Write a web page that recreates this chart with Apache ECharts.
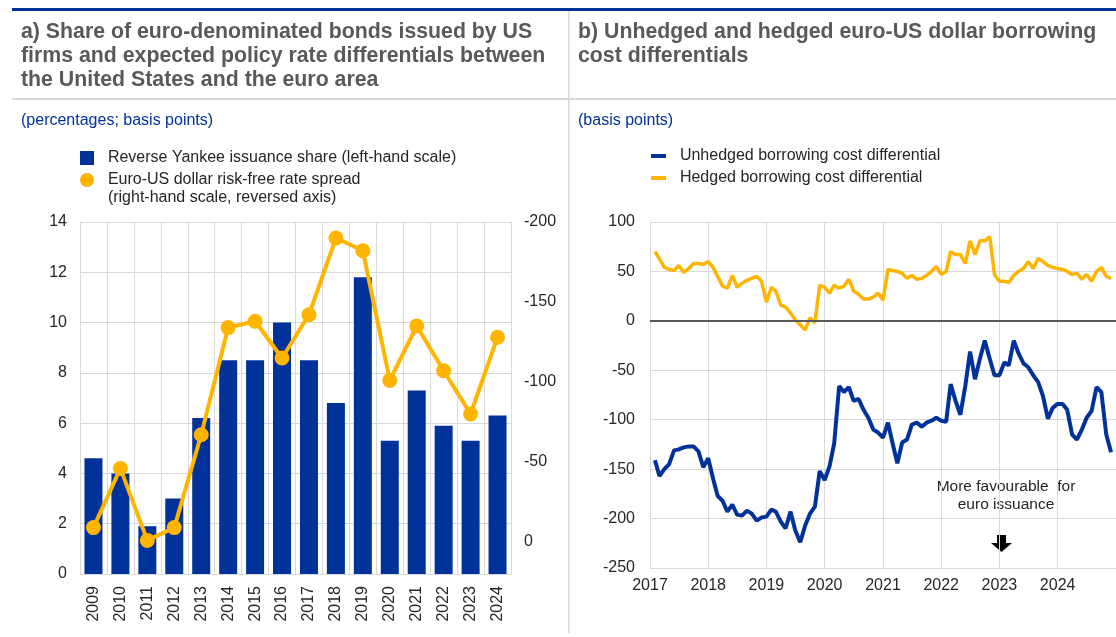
<!DOCTYPE html>
<html>
<head>
<meta charset="utf-8">
<script src="https://cdn.jsdelivr.net/npm/echarts@6/dist/echarts.min.js"></script>
<style>
  html, body { margin: 0; padding: 0; background: #fff; }
  #main { width: 1116px; height: 637px; }
</style>
</head>
<body>
<div id="main"></div>
<script>
// panel a
var years = ['2009', '2010', '2011', '2012', '2013', '2014', '2015', '2016',
  '2017', '2018', '2019', '2020', '2021', '2022', '2023', '2024'];
var issuanceShare = [4.6, 4.0, 1.9, 3.0, 6.2, 8.5, 8.5, 10.0, 8.5, 6.8, 11.8, 5.3, 7.3, 5.9, 5.3, 6.3];
var rateSpread = [-9, -46, -1, -9, -67, -134, -138, -115, -142, -190, -182, -101, -135, -107, -80, -128];

// panel b, monthly from Feb 2017 to Dec 2024
var unhedged = [
  -141, -157, -150, -145, -131, -130, -128, -127, -127, -132, -148,
  -139, -160, -177, -182, -193, -186, -196, -197, -192, -195, -202, -199,
  -198, -191, -193, -203, -210, -193, -212, -224, -207, -195, -188, -152,
  -161, -147, -124, -66, -72, -67, -81, -79, -90, -98, -110, -113,
  -118, -103, -123, -144, -123, -120, -105, -103, -107, -103, -101, -98,
  -101, -102, -64, -81, -95, -66, -31, -59, -38, -20, -38, -55,
  -55, -42, -45, -20, -33, -43, -47, -55, -62, -76, -99, -88,
  -84, -84, -90, -115, -120, -110, -98, -91, -67, -72, -115, -133
];
var hedged = [
  70, 63, 54, 52, 51, 56, 49, 53, 58, 58, 57,
  60, 54, 45, 35, 33, 46, 34, 38, 41, 43, 45, 40,
  19, 34, 30, 16, 14, 8, 1, -4, -9, 3, -2, 36,
  34, 28, 36, 33, 35, 42, 30, 27, 22, 22, 24, 28,
  21, 52, 51, 50, 48, 43, 46, 42, 43, 46, 50, 55,
  47, 50, 70, 67, 67, 58, 81, 67, 81, 81, 85, 47,
  40, 40, 39, 46, 50, 53, 60, 53, 63, 60, 56, 54,
  53, 52, 50, 47, 48, 42, 47, 40, 50, 54, 45, 43
];

var months = [];
for (var i = 0; i < unhedged.length; i++) {
  var m = 1 + i;
  var y = 2017 + Math.floor(m / 12);
  var mm = (m % 12) + 1;
  months.push(y + '-' + (mm < 10 ? '0' + mm : mm) + '-01');
}
function pairs(vals) {
  return vals.map(function (v, i) { return [months[i], v]; });
}

var FONT = "'Liberation Sans', Arial, sans-serif";
var BLUE = '#003299';
var YELLOW = '#ffb400';
var GRID = '#d9d9d9';
var LABEL = '#262626';
var GAP = '  '; // wider gap between legend icon and text

var chart = echarts.init(document.getElementById('main'));

var option = {
  animation: false,
  backgroundColor: '#fff',
  textStyle: { fontFamily: FONT },
  title: [
    {
      text: 'a) Share of euro-denominated bonds issued by US\nfirms and expected policy rate differentials between\nthe United States and the euro area',
      left: 21, top: 19.5, padding: 0,
      textStyle: { fontFamily: FONT, fontSize: 21.3, fontWeight: 'bold', color: '#595959', lineHeight: 24.3 }
    },
    {
      text: 'b) Unhedged and hedged euro-US dollar borrowing\ncost differentials',
      left: 578, top: 19.5, padding: 0,
      textStyle: { fontFamily: FONT, fontSize: 21.3, fontWeight: 'bold', color: '#595959', lineHeight: 24.3 }
    },
    {
      text: '(percentages; basis points)',
      left: 21, top: 111.5, padding: 0,
      textStyle: { fontFamily: FONT, fontSize: 16, fontWeight: 'normal', color: BLUE, lineHeight: 18 }
    },
    {
      text: '(basis points)',
      left: 578, top: 111.5, padding: 0,
      textStyle: { fontFamily: FONT, fontSize: 16, fontWeight: 'normal', color: BLUE, lineHeight: 18 }
    }
  ],
  legend: [
    {
      left: 80, top: 149, padding: 0, selectedMode: false,
      itemWidth: 14, itemHeight: 14,
      data: [{ name: 'Reverse Yankee issuance share (left-hand scale)', icon: 'rect' }],
      formatter: function (name) { return GAP + name; },
      textStyle: { fontFamily: FONT, fontSize: 16, color: LABEL, lineHeight: 18 }
    },
    {
      // leading empty line keeps the icon level with the first text line
      left: 80, top: 153, padding: 0, selectedMode: false,
      itemWidth: 14, itemHeight: 14,
      data: [{ name: 'Euro-US dollar risk-free rate spread', icon: 'circle' }],
      formatter: function (name) {
        return ' \n' + GAP + name + '\n' + GAP + '(right-hand scale, reversed axis)';
      },
      textStyle: { fontFamily: FONT, fontSize: 16, color: LABEL, lineHeight: 18 }
    },
    {
      left: 651, top: 147, padding: 0, selectedMode: false, orient: 'vertical',
      itemWidth: 15, itemHeight: 4, itemGap: 4,
      data: [
        { name: 'Unhedged borrowing cost differential', icon: 'rect' },
        { name: 'Hedged borrowing cost differential', icon: 'rect' }
      ],
      formatter: function (name) { return GAP + name; },
      textStyle: { fontFamily: FONT, fontSize: 16, color: LABEL, lineHeight: 18 }
    }
  ],
  grid: [
    { left: 80, top: 222, width: 431, height: 352 },
    { left: 650, top: 222, width: 470, height: 346 }
  ],
  xAxis: [
    {
      type: 'category', gridIndex: 0, data: years,
      axisLine: { lineStyle: { color: GRID } },
      axisTick: { show: false },
      splitLine: { show: true, interval: 0, lineStyle: { color: GRID, width: 1 } },
      axisLabel: { rotate: 90, interval: 0, margin: 12, fontSize: 16, color: LABEL, fontFamily: FONT }
    },
    {
      type: 'time', gridIndex: 1,
      min: '2017-01-01', max: '2025-01-01',
      minInterval: 365 * 24 * 3600 * 1000,
      maxInterval: 366 * 24 * 3600 * 1000,
      axisLine: { lineStyle: { color: GRID } },
      axisTick: { show: false },
      splitLine: { show: true, lineStyle: { color: GRID, width: 1 } },
      axisLabel: {
        margin: 10, fontSize: 16, color: LABEL, fontFamily: FONT,
        formatter: function (val) {
          var d = new Date(val);
          var yr = d.getFullYear();
          return yr < 2025 ? String(yr) : '';
        }
      }
    }
  ],
  yAxis: [
    {
      type: 'value', gridIndex: 0, min: 0, max: 14, interval: 2,
      axisLine: { show: false }, axisTick: { show: false },
      splitLine: { lineStyle: { color: GRID, width: 1 } },
      axisLabel: { margin: 13, fontSize: 16, color: LABEL, fontFamily: FONT }
    },
    {
      type: 'value', gridIndex: 0, position: 'right', inverse: true,
      min: -200, max: 20, interval: 50,
      axisLine: { show: false }, axisTick: { show: false },
      splitLine: { show: false },
      axisLabel: {
        margin: 13, fontSize: 16, color: LABEL, fontFamily: FONT,
        formatter: function (v) { return v > 0 ? '' : String(v); }
      }
    },
    {
      type: 'value', gridIndex: 1, min: -250, max: 100, interval: 50,
      axisLine: { show: false }, axisTick: { show: false },
      splitLine: { lineStyle: { color: GRID, width: 1 } },
      axisLabel: { margin: 15, fontSize: 16, color: LABEL, fontFamily: FONT }
    }
  ],
  series: [
    {
      name: 'Reverse Yankee issuance share (left-hand scale)',
      type: 'bar', xAxisIndex: 0, yAxisIndex: 0,
      data: issuanceShare, barWidth: 18,
      itemStyle: { color: BLUE }
    },
    {
      name: 'Euro-US dollar risk-free rate spread',
      type: 'line', xAxisIndex: 0, yAxisIndex: 1,
      data: rateSpread,
      symbol: 'circle', symbolSize: 15,
      lineStyle: { color: YELLOW, width: 4 },
      itemStyle: { color: YELLOW }
    },
    {
      name: 'Unhedged borrowing cost differential',
      type: 'line', xAxisIndex: 1, yAxisIndex: 2,
      data: pairs(unhedged), showSymbol: false, symbol: 'none',
      lineStyle: { color: BLUE, width: 4 },
      itemStyle: { color: BLUE },
      markLine: {
        silent: true, symbol: 'none', label: { show: false },
        lineStyle: { color: '#595959', width: 2, type: 'solid' },
        data: [{ yAxis: 0 }]
      }
    },
    {
      name: 'Hedged borrowing cost differential',
      type: 'line', xAxisIndex: 1, yAxisIndex: 2,
      data: pairs(hedged), showSymbol: false, symbol: 'none',
      lineStyle: { color: YELLOW, width: 3.5 },
      itemStyle: { color: YELLOW }
    }
  ],
  graphic: [
    { type: 'rect', shape: { x: 12, y: 8, width: 1104, height: 3 }, style: { fill: BLUE } },
    { type: 'rect', shape: { x: 12, y: 98, width: 1104, height: 2 }, style: { fill: GRID } },
    { type: 'rect', shape: { x: 568, y: 11, width: 1.5, height: 622 }, style: { fill: GRID } },
    {
      type: 'text', x: 1006, y: 478,
      style: {
        text: 'More favourable  for\neuro issuance',
        font: '15.5px ' + FONT, fill: LABEL, align: 'center', lineHeight: 18
      }
    },
    {
      type: 'polygon',
      shape: { points: [[997, 535], [1006, 535], [1006, 543], [1012, 543], [1001.5, 552], [991, 543], [997, 543]] },
      style: { fill: '#000' }
    }
  ]
};

chart.setOption(option);
</script>
</body>
</html>
